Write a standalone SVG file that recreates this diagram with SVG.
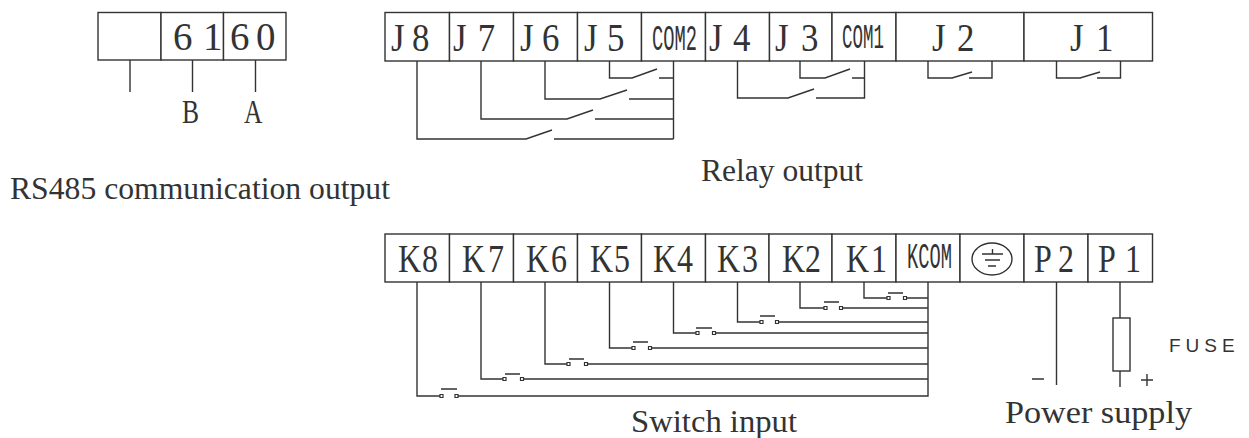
<svg xmlns="http://www.w3.org/2000/svg" width="1249" height="438" viewBox="0 0 1249 438">
<style>
.b{fill:#fff;stroke:#333;stroke-width:1.4}
.w{fill:none;stroke:#333;stroke-width:1.4}
.c{fill:none;stroke:#333;stroke-width:1.2}
.t{font-family:"Liberation Serif",serif;font-size:41px;fill:#333}
.m{font-family:"Liberation Serif",serif;font-size:34px;fill:#333}
.s{font-family:"Liberation Mono",monospace;font-size:36px;fill:#333}
.l{font-family:"Liberation Serif",serif;font-size:32px;fill:#333}
.f{font-family:"Liberation Sans",sans-serif;font-size:19px;letter-spacing:5px;fill:#333}
</style>
<rect width="1249" height="438" fill="#fff"/>
<g id="rs485">
<g id="t-blank"><rect class="b" x="98" y="12.5" width="63" height="47.5"/></g>
<g id="t-61"><rect class="b" x="161" y="12.5" width="62.5" height="47.5"/><text class="t" transform="translate(173,50) scale(.95,1)" x="0 31.6">61</text></g>
<g id="t-60"><rect class="b" x="223.500" y="12.500" width="62.500" height="47.500"/><text class="t" transform="translate(230,50) scale(.95,1)" x="0 27.4">60</text></g>
</g>
<g id="relay">
<g id="J8"><rect class="b" x="385" y="12.500" width="64.500" height="48.500"/><text class="t" transform="translate(391,51) scale(.85,1)" x="0 24.700">J8</text></g>
<g id="J7"><rect class="b" x="449.500" y="12.500" width="64" height="48.500"/><text class="t" transform="translate(453,51) scale(.85,1)" x="0 29">J7</text></g>
<g id="J6"><rect class="b" x="513.500" y="12.500" width="64" height="48.500"/><text class="t" transform="translate(520,51) scale(.85,1)" x="0 25.900">J6</text></g>
<g id="J5"><rect class="b" x="577.500" y="12.500" width="64" height="48.500"/><text class="t" transform="translate(584,51) scale(.85,1)" x="0 27">J5</text></g>
<g id="COM2"><rect class="b" x="641.500" y="12.500" width="64" height="48.500"/><text class="s" transform="translate(652,50) scale(.52,1)">COM2</text></g>
<g id="J4"><rect class="b" x="705.500" y="12.500" width="64" height="48.500"/><text class="t" transform="translate(709,51) scale(.85,1)" x="0 28.200">J4</text></g>
<g id="J3"><rect class="b" x="769.500" y="12.500" width="62.500" height="48.500"/><text class="t" transform="translate(775,51) scale(.85,1)" x="0 30.600">J3</text></g>
<g id="COM1"><rect class="b" x="832" y="12.500" width="64" height="48.500"/><text class="s" transform="translate(842,48) scale(.486,1)">COM1</text></g>
<g id="J2"><rect class="b" x="896" y="12.500" width="128" height="48.500"/><text class="t" transform="translate(932,51) scale(.85,1)" x="0 29.400">J2</text></g>
<g id="J1"><rect class="b" x="1024" y="12.500" width="128.500" height="48.500"/><text class="t" transform="translate(1070,51) scale(.85,1)" x="0 30.600">J1</text></g>
</g>
<g id="switch">
<g id="K8"><rect class="b" x="385" y="234" width="64.500" height="48"/><text class="t" transform="translate(398,272) scale(.78,1)" x="0 30.800">K8</text></g>
<g id="K7"><rect class="b" x="449.500" y="234" width="64" height="48"/><text class="t" transform="translate(462,272) scale(.78,1)" x="0 33.300">K7</text></g>
<g id="K6"><rect class="b" x="513.500" y="234" width="64" height="48"/><text class="t" transform="translate(526,272) scale(.78,1)" x="0 32">K6</text></g>
<g id="K5"><rect class="b" x="577.500" y="234" width="64" height="48"/><text class="t" transform="translate(590,272) scale(.78,1)" x="0 30.800">K5</text></g>
<g id="K4"><rect class="b" x="641.500" y="234" width="64" height="48"/><text class="t" transform="translate(653,272) scale(.78,1)" x="0 30.800">K4</text></g>
<g id="K3"><rect class="b" x="705.500" y="234" width="63.500" height="48"/><text class="t" transform="translate(717,272) scale(.78,1)" x="0 32">K3</text></g>
<g id="K2"><rect class="b" x="769" y="234" width="63" height="48"/><text class="t" transform="translate(782,272) scale(.78,1)" x="0 29.500">K2</text></g>
<g id="K1"><rect class="b" x="832" y="234" width="64" height="48"/><text class="t" transform="translate(846,272) scale(.78,1)" x="0 32">K1</text></g>
<g id="KCOM"><rect class="b" x="896" y="234" width="64" height="48"/><text class="s" transform="translate(907,268) scale(.52,1)">KCOM</text></g>
<g id="GND"><rect class="b" x="960" y="234" width="64" height="48"/><ellipse class="w" cx="992" cy="259" rx="20" ry="16"/><path class="w" d="M982 254H1003M992.500 249V254M985 260H1000M988 266H996"/></g>
<g id="P2"><rect class="b" x="1024" y="234" width="64" height="48"/><text class="t" transform="translate(1034,272) scale(.78,1)" x="0 30.800">P2</text></g>
<g id="P1"><rect class="b" x="1088" y="234" width="64.500" height="48"/><text class="t" transform="translate(1098,272) scale(.78,1)" x="0 34.600">P1</text></g>
<g id="FUSE"><rect class="b" x="1113" y="318" width="17" height="53"/><text class="f" x="1169" y="352">FUSE</text></g>
</g>
<g id="connectors">
<path class="w" d="M130 60V92M192.500 60V92M255.500 60V92"/>
<path class="w" d="M673.500 61V139M609.500 61V78H632L657 69M659 78H673.500M545 61V99H600L627 90M629 99H673.500M481 61V119H567L593 110M595 119H673.500M417 61V139H526L552 130M554 139H673.500"/>
<path class="w" d="M737.500 61V98H788L814 89M816 98H864.500V61M800 61V78H825L850 69M852 78H864.500"/>
<path class="w" d="M928 61V78H952L972 72M969 78H992V61M1056.500 61V78H1080L1100 72M1097 78H1120.500V61"/>
<path class="w" d="M928 282V396H458M417 282V396H440M441 389H457"/>
<path class="w" d="M481 282V379H503M505 374H520M524 379H928"/>
<path class="w" d="M545 282V364H567M569 359H584M588 364H928"/>
<path class="w" d="M609.500 282V348H632M633 342H648M652 348H928"/>
<path class="w" d="M673.500 282V333H696M696 328H712M716 333H928"/>
<path class="w" d="M737.500 282V322H760M760 316H775M779 322H928"/>
<path class="w" d="M800 282V308H824M824 302H839M843 308H928"/>
<path class="w" d="M864 282V298H887M888 293H903M907 298H928"/>
<path class="c" d="M503 377.500h3v3h-3zM520.500 377.500h3v3h-3zM567 362.500h3v3h-3zM584.500 362.500h3v3h-3zM632 346.500h3v3h-3zM648.500 346.500h3v3h-3zM696 331.500h3v3h-3zM712.500 331.500h3v3h-3zM760 320.500h3v3h-3zM775.500 320.500h3v3h-3zM824 306.500h3v3h-3zM839.500 306.500h3v3h-3zM887 296.500h3v3h-3zM903.500 296.500h3v3h-3zM440 394.500h3v3h-3zM455 394.500h3v3h-3z"/>
<path class="w" d="M1056.500 282V385M1120 282V318M1120 371V387"/>
<path class="w" d="M1032 379H1044M1141 380H1153M1147 374V386"/>
</g>
<g id="labels">
<text class="m" transform="translate(182,123) scale(.75,1)">B</text>
<text class="m" transform="translate(244,123) scale(.75,1)">A</text>
<text class="l" x="10" y="199" textLength="380" lengthAdjust="spacingAndGlyphs">RS485 communication output</text>
<text class="l" x="701" y="181" textLength="162" lengthAdjust="spacingAndGlyphs">Relay output</text>
<text class="l" x="631" y="432" textLength="166" lengthAdjust="spacingAndGlyphs">Switch input</text>
<text class="l" x="1005" y="423" textLength="187" lengthAdjust="spacingAndGlyphs">Power supply</text>
</g>
</svg>
